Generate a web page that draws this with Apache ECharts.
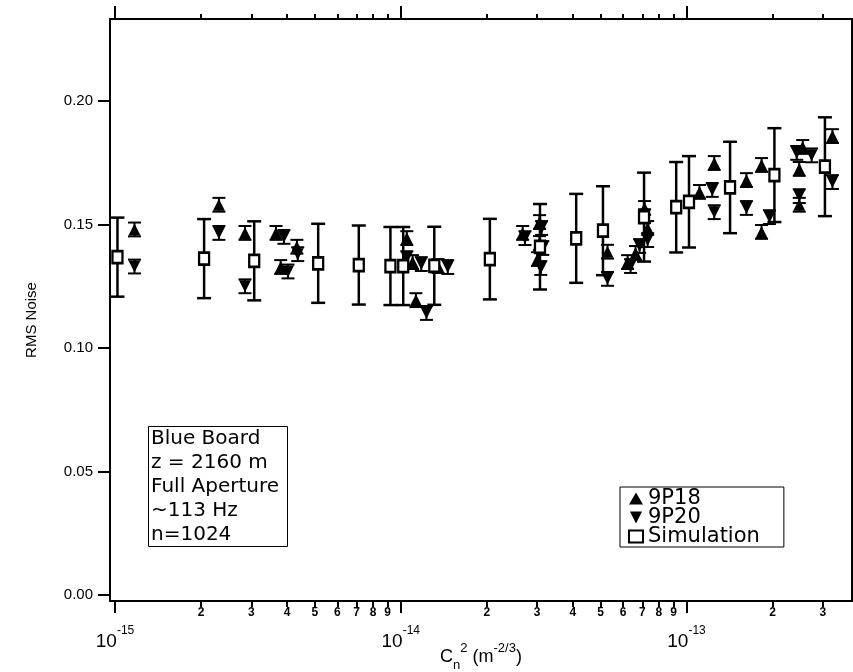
<!DOCTYPE html>
<html><head><meta charset="utf-8">
<script src="https://cdn.jsdelivr.net/npm/echarts@6/dist/echarts.min.js"></script>
<style>html,body{margin:0;padding:0;background:#fff}#c{width:853px;height:672px}</style>
</head><body><div id="c"></div>
<script>
// ---- tick definitions (real C_n^2 values) ----
const xMajorTicks = [1e-15, 1e-14, 1e-13];
const xMinorTicks = [2e-15,3e-15,4e-15,5e-15,6e-15,7e-15,8e-15,9e-15,
                     2e-14,3e-14,4e-14,5e-14,6e-14,7e-14,8e-14,9e-14,
                     2e-13,3e-13];
const yTicks = [0, 0.05, 0.10, 0.15, 0.20];

// ---- Simulation (hollow squares, large error bars) ----
const simX   = [1.02e-15,2.05e-15,3.07e-15,5.14e-15,7.13e-15,9.2e-15,1.02e-14,1.31e-14,2.05e-14,3.07e-14,4.11e-14,5.1e-14,7.1e-14,9.2e-14,1.02e-13,1.42e-13,2.03e-13,3.05e-13];
const simY   = [0.1368,0.1362,0.1353,0.1343,0.1336,0.1332,0.1332,0.1333,0.1360,0.1410,0.1444,0.1475,0.1530,0.1570,0.1592,0.1650,0.1700,0.1734];
const simErr = [0.0160,0.0160,0.0160,0.0160,0.0160,0.0158,0.0158,0.0158,0.0163,0.0173,0.0180,0.0180,0.0180,0.0183,0.0185,0.0185,0.0190,0.0200];

// ---- 9P18 (up triangles) ----
const p18X   = [1.17e-15,2.31e-15,2.85e-15,3.66e-15,3.80e-15,4.33e-15,1.05e-14,1.10e-14,1.13e-14,1.35e-14,2.67e-14,3.06e-14,3.06e-14,3.01e-14,5.29e-14,6.22e-14,6.63e-14,7.13e-14,7.31e-14,1.11e-13,1.25e-13,1.62e-13,1.83e-13,1.83e-13,2.55e-13,2.48e-13,2.48e-13,3.24e-13];
const p18Y   = [0.148,0.158,0.1466,0.1466,0.1328,0.141,0.1445,0.1348,0.1194,0.1332,0.1466,0.151,0.1425,0.136,0.139,0.1348,0.1385,0.1567,0.1486,0.1632,0.1749,0.168,0.1741,0.147,0.1814,0.1725,0.158,0.1858];
const p18Err = [0.0028,0.0028,0.0028,0.0028,0.0028,0.0028,0.0028,0.0028,0.0028,0.0028,0.0028,0.0028,0.0028,0.0028,0.0028,0.0028,0.0028,0.0028,0.0028,0.0028,0.0028,0.0028,0.0028,0.0028,0.0028,0.0028,0.0028,0.0028];

// ---- 9P20 (down triangles) ----
const p20X   = [1.17e-15,2.31e-15,2.85e-15,3.90e-15,4.03e-15,4.36e-15,1.05e-14,1.18e-14,1.23e-14,1.46e-14,2.72e-14,3.11e-14,3.14e-14,3.09e-14,5.29e-14,6.37e-14,6.85e-14,7.13e-14,7.31e-14,1.23e-13,1.25e-13,1.62e-13,1.95e-13,2.43e-13,2.74e-13,2.48e-13,3.24e-13];
const p20Y   = [0.133,0.1466,0.125,0.145,0.131,0.138,0.1364,0.134,0.1142,0.1328,0.1445,0.1486,0.1405,0.1324,0.128,0.1332,0.1413,0.1534,0.1437,0.164,0.155,0.1567,0.153,0.179,0.178,0.1615,0.1672];
const p20Err = [0.0028,0.0028,0.0028,0.0028,0.0028,0.0028,0.0028,0.0028,0.0028,0.0028,0.0028,0.0028,0.0028,0.0028,0.0028,0.0028,0.0028,0.0028,0.0028,0.0028,0.0028,0.0028,0.0028,0.0028,0.0028,0.0028,0.0028];

const FONT = 'Liberation Sans, Arial, Helvetica, sans-serif';
const FONT2 = 'DejaVu Sans, Liberation Sans, sans-serif';
const lg = v => Math.log10(v);
const rows = (xs, ys, es) => xs.map((x, i) => [lg(x), ys[i], es[i]]);
const X_MIN = -15.0175, X_MAX = -12.421;
const Y_MIN = -0.0024, Y_MAX = 0.2332;

function errBar(capW, lw) {
  return function (params, api) {
    const x = api.value(0), y = api.value(1), e = api.value(2);
    const t = api.coord([x, y + e]), b = api.coord([x, y - e]);
    const h = capW / 2, st = { stroke: '#000', lineWidth: lw };
    return { type: 'group', children: [
      { type: 'line', shape: { x1: t[0], y1: t[1], x2: b[0], y2: b[1] }, style: st },
      { type: 'line', shape: { x1: t[0] - h, y1: t[1], x2: t[0] + h, y2: t[1] }, style: st },
      { type: 'line', shape: { x1: b[0] - h, y1: b[1], x2: b[0] + h, y2: b[1] }, style: st }
    ]};
  };
}

const lineOn = { show: true, onZero: false, lineStyle: { color: '#000', width: 2 } };
const lineOff = { show: false, onZero: false };
const baseX = { type: 'value', min: X_MIN, max: X_MAX, splitLine: { show: false } };
const chart = echarts.init(document.getElementById('c'));
chart.setOption({
  animation: false,
  backgroundColor: '#fff',
  textStyle: { fontFamily: FONT },
  grid: { left: 110, right: 1, top: 19, bottom: 71, containLabel: false, outerBoundsMode: 'none' },
  xAxis: [
    Object.assign({}, baseX, {
      position: 'bottom', axisLine: lineOn,
      axisTick: { show: true, length: 12, lineStyle: { color: '#000', width: 2 }, customValues: xMajorTicks.map(lg) },
      axisLabel: { show: true, margin: 24, customValues: xMajorTicks.map(lg), color: '#000', fontFamily: FONT,
        formatter: v => '{b|10}{s|' + Math.round(v) + '}',
        rich: { b: { fontSize: 19, fontFamily: FONT, color: '#000', verticalAlign: 'bottom', lineHeight: 26 },
                s: { fontSize: 12, fontFamily: FONT, color: '#000', verticalAlign: 'top', lineHeight: 26 } } },
      name: '{m|C}{sub|n}{sup|2}{m| (m}{sup|-2/3}{m|)}',
      nameLocation: 'middle', nameGap: 41, nameMoveOverlap: false,
      nameTextStyle: { rich: {
        m: { fontSize: 18, fontFamily: FONT, color: '#000', lineHeight: 30, verticalAlign: 'middle' },
        sub: { fontSize: 13, fontFamily: FONT, color: '#000', lineHeight: 30, verticalAlign: 'bottom' },
        sup: { fontSize: 13, fontFamily: FONT, color: '#000', lineHeight: 30, verticalAlign: 'top' } } }
    }),
    Object.assign({}, baseX, {
      position: 'bottom', axisLine: lineOff,
      axisTick: { show: true, length: 6, lineStyle: { color: '#000', width: 2 }, customValues: xMinorTicks.map(lg) },
      axisLabel: { show: true, margin: 6, customValues: xMinorTicks.map(lg), color: '#000', fontSize: 12, fontWeight: 'bold', fontFamily: FONT,
        formatter: v => String(Math.round(Math.pow(10, v - Math.floor(v + 1e-9)))) }
    }),
    Object.assign({}, baseX, {
      position: 'top', axisLine: lineOn,
      axisTick: { show: true, length: 13, lineStyle: { color: '#000', width: 2 }, customValues: xMajorTicks.map(lg) },
      axisLabel: { show: false }
    }),
    Object.assign({}, baseX, {
      position: 'top', axisLine: lineOff,
      axisTick: { show: true, length: 5, lineStyle: { color: '#000', width: 2 }, customValues: xMinorTicks.map(lg) },
      axisLabel: { show: false }
    })
  ],
  yAxis: [
    { type: 'value', min: Y_MIN, max: Y_MAX, position: 'left', splitLine: { show: false }, axisLine: lineOn,
      axisTick: { show: true, length: 12, lineStyle: { color: '#000', width: 2 }, customValues: yTicks },
      axisLabel: { show: true, margin: 17, customValues: yTicks, color: '#000', fontSize: 15, fontFamily: FONT,
        formatter: v => v.toFixed(2) } },
    { type: 'value', min: Y_MIN, max: Y_MAX, position: 'right', splitLine: { show: false }, axisLine: lineOn,
      axisTick: { show: false }, axisLabel: { show: false } }
  ],
  title: {
    text: 'Blue Board\nz = 2160 m\nFull Aperture\n~113 Hz\nn=1024',
    left: 148, top: 426, padding: [1, 9, 0, 3],
    borderColor: '#000', borderWidth: 1,
    textStyle: { fontSize: 20, fontWeight: 'normal', color: '#000', fontFamily: FONT2, lineHeight: 24 }
  },
  legend: {
    orient: 'vertical', left: 620, top: 487, padding: [1, 24, 0, 8], itemGap: -2,
    itemWidth: 14, itemHeight: 12, borderColor: '#000', borderWidth: 1, backgroundColor: '#fff',
    textStyle: { fontSize: 21, color: '#000', fontFamily: FONT2, lineHeight: 19 },
    data: ['9P18', '9P20', 'Simulation']
  },
  graphic: [{
    type: 'text', x: 32, y: 320, rotation: Math.PI / 2,
    style: { text: 'RMS Noise', fontSize: 15, fontFamily: FONT, fill: '#000', align: 'center', verticalAlign: 'middle' }
  }],
  series: [
    { name: 'simErr', type: 'custom', renderItem: errBar(14, 2.5),
      encode: { x: 0, y: 1 }, data: rows(simX, simY, simErr), z: 2 },
    { name: 'p18Err', type: 'custom', renderItem: errBar(13, 2), encode: { x: 0, y: 1 }, data: rows(p18X, p18Y, p18Err), z: 3 },
    { name: 'p20Err', type: 'custom', renderItem: errBar(13, 2), encode: { x: 0, y: 1 }, data: rows(p20X, p20Y, p20Err), z: 3 },
    { name: '9P18', type: 'scatter', symbol: 'triangle', symbolSize: 12, itemStyle: { color: '#000', opacity: 1 },
      data: rows(p18X, p18Y, p18Err), z: 4 },
    { name: '9P20', type: 'scatter', symbol: 'path://M0,0L10,0L5,10Z', symbolSize: 12, itemStyle: { color: '#000', opacity: 1 },
      data: rows(p20X, p20Y, p20Err), z: 4 },
    { name: 'Simulation', type: 'scatter', symbol: 'rect', symbolSize: [10, 12],
      itemStyle: { color: '#fff', borderColor: '#000', borderWidth: 2.5, opacity: 1 },
      data: rows(simX, simY, simErr), z: 5 }
  ]
});
</script></body></html>
